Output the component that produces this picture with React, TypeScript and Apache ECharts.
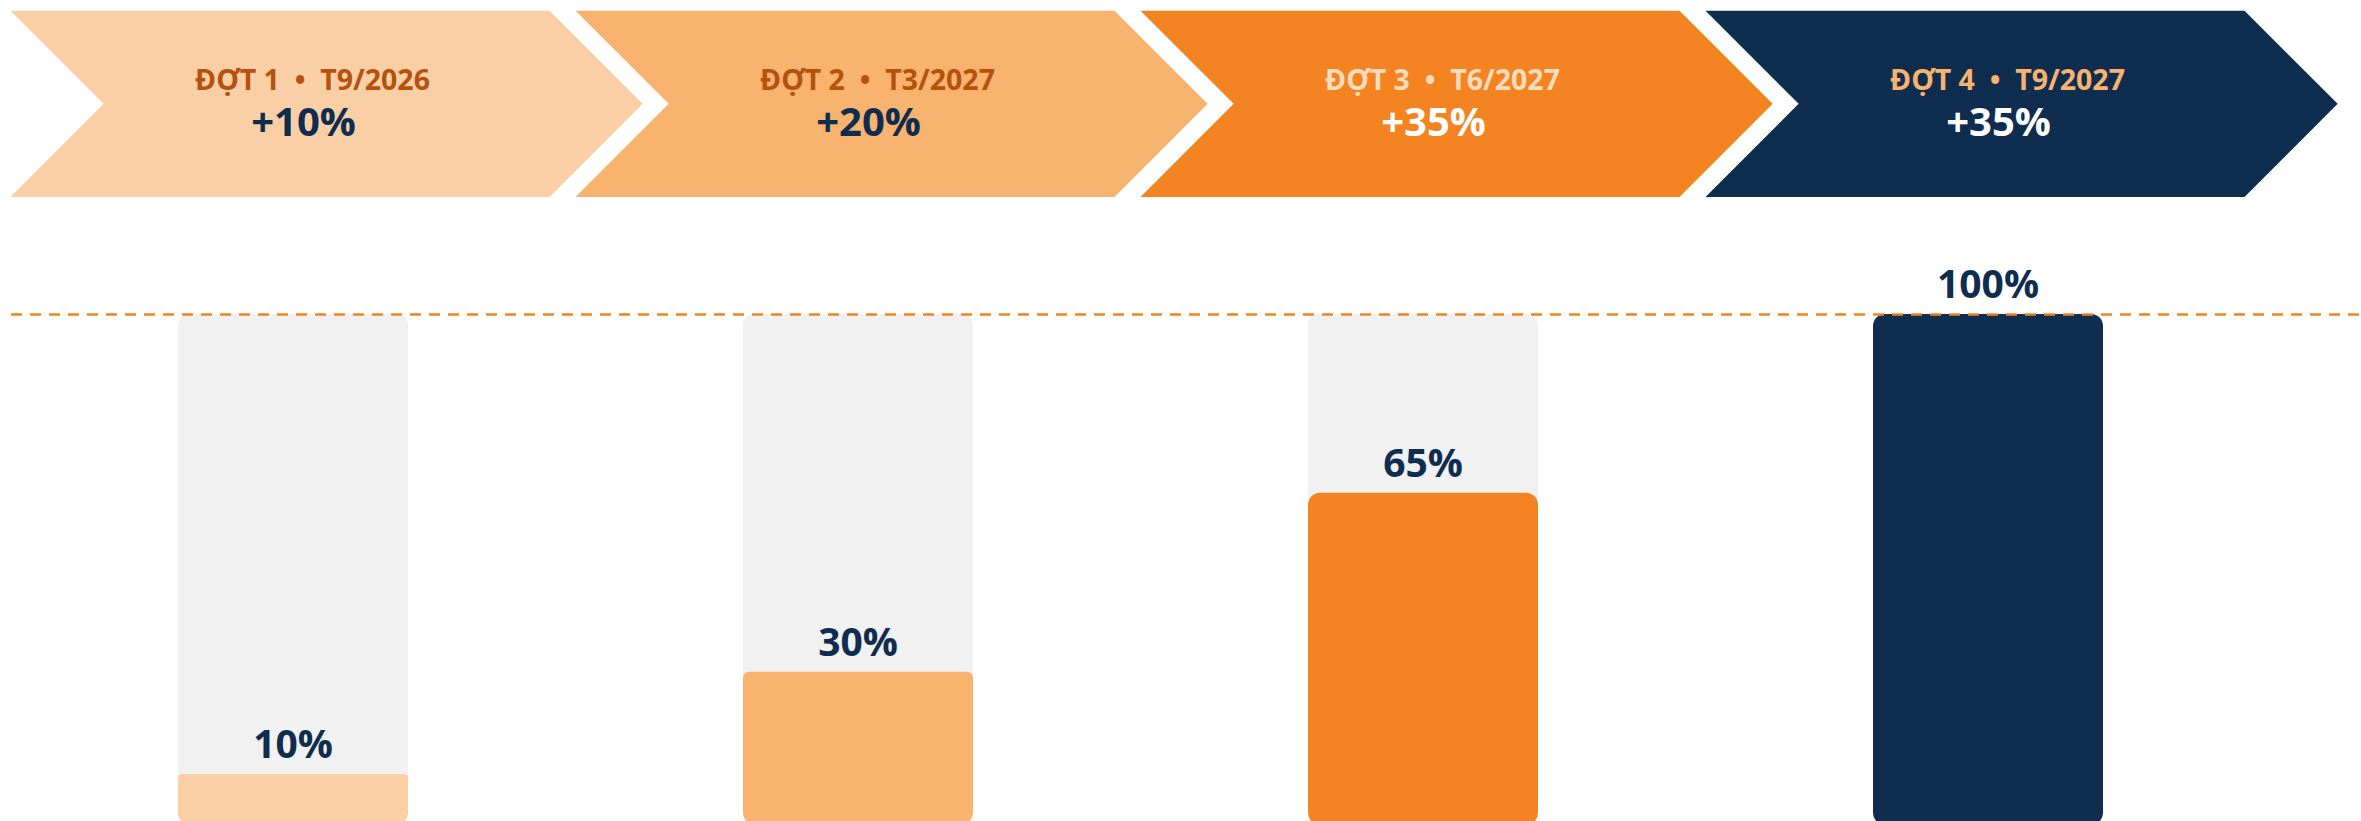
import React, { useEffect, useRef } from "react";
import * as echarts from "echarts";

// ---- data ----
const phases = ["ĐỢT 1", "ĐỢT 2", "ĐỢT 3", "ĐỢT 4"];
const dates = ["T9/2026", "T3/2027", "T6/2027", "T9/2027"];
const increments = [10, 20, 35, 35];
const cumulative = [10, 30, 65, 100];
const targetLevel = 100;

// ---- styles ----
const NAVY = "#0E2D4F";
const fills = ["#FACFA5", "#F8B36E", "#F48322", "#0E2D4F"];
const titleColors = ["#B5520F", "#B5520F", "#FDDCBD", "#F8B36E"];
const numberColors = [NAVY, NAVY, "#FFFFFF", "#FFFFFF"];
const topRadius = [4, 6, 12, 12];
const FONT = "'Open Sans', 'Noto Sans', sans-serif";

export default function App() {
  const ref = useRef<HTMLDivElement>(null);

  useEffect(() => {
    if (!ref.current) return;
    const chart = echarts.init(ref.current, null, { renderer: "svg" });

    const option: any = {
      animation: false,
      backgroundColor: "#FFFFFF",
      grid: [
        { left: 10.5, width: 2260, top: 314, height: 511, containLabel: false, outerBoundsMode: "none" },
        { left: 10.5, width: 2260, top: 10.7, height: 186.3, containLabel: false, outerBoundsMode: "none" },
      ],
      xAxis: [
        { type: "category", gridIndex: 0, data: phases, show: false },
        { type: "category", gridIndex: 1, data: phases, show: false },
      ],
      yAxis: [
        { type: "value", gridIndex: 0, min: 0, max: 100, show: false },
        { type: "value", gridIndex: 1, min: 0, max: 1, show: false },
      ],
      series: [
        {
          type: "bar",
          xAxisIndex: 0,
          yAxisIndex: 0,
          barWidth: 230,
          showBackground: true,
          backgroundStyle: { color: "#F1F1F1", borderRadius: [10, 10, 12, 12] },
          data: cumulative.map((v, i) => ({
            value: v,
            itemStyle: {
              color: fills[i],
              borderRadius: [topRadius[i], topRadius[i], 12, 12],
            },
          })),
          label: {
            show: true,
            position: "top",
            distance: 12,
            formatter: "{c}%",
            color: NAVY,
            fontSize: 39,
            fontWeight: "bold",
            fontFamily: FONT,
          },
          markLine: {
            silent: true,
            symbol: "none",
            label: { show: false },
            lineStyle: { color: "#F28322", type: [11, 8], width: 2.5 },
            data: [[{ x: 11, yAxis: targetLevel }, { x: 2361, yAxis: targetLevel }]],
          },
          z: 2,
        },
        {
          type: "custom",
          xAxisIndex: 1,
          yAxisIndex: 1,
          data: phases.map((_, i) => [i, 1]),
          encode: { x: 0, y: 1 },
          renderItem: (params: any, api: any) => {
            const i = api.value(0);
            const p0 = api.coord([i, 0]);
            const p1 = api.coord([i, 1]);
            const bw = api.size([1, 0])[0];
            const left = p0[0] - bw / 2;
            const yb = p0[1];
            const yt = p1[1];
            const h = yb - yt;
            const half = h / 2;
            const ym = yt + half;
            const body = bw * 0.954;
            const points = [
              [left, yt],
              [left + body, yt],
              [left + body + half, ym],
              [left + body, yb],
              [left, yb],
              [left + half, ym],
            ];
            return {
              type: "group",
              children: [
                { type: "polygon", shape: { points }, style: { fill: fills[i] } },
                {
                  type: "text",
                  x: left + bw * 0.5345,
                  y: yt + h * 0.369,
                  style: {
                    text: `${phases[i]}  •  ${dates[i]}`,
                    fill: titleColors[i],
                    fontSize: 28.5,
                    fontWeight: "bold",
                    fontFamily: FONT,
                    align: "center",
                    verticalAlign: "middle",
                  },
                },
                {
                  type: "text",
                  x: left + bw * 0.5186,
                  y: yt + h * 0.59,
                  style: {
                    text: `+${increments[i]}%`,
                    fill: numberColors[i],
                    fontSize: 40,
                    fontWeight: "bold",
                    fontFamily: FONT,
                    align: "center",
                    verticalAlign: "middle",
                  },
                },
              ],
            };
          },
          z: 3,
        },
      ],
    };

    chart.setOption(option);
    return () => chart.dispose();
  }, []);

  return (
    <div
      ref={ref}
      style={{ position: "fixed", left: 0, top: 0, width: 2361, height: 821, overflow: "hidden" }}
    />
  );
}
